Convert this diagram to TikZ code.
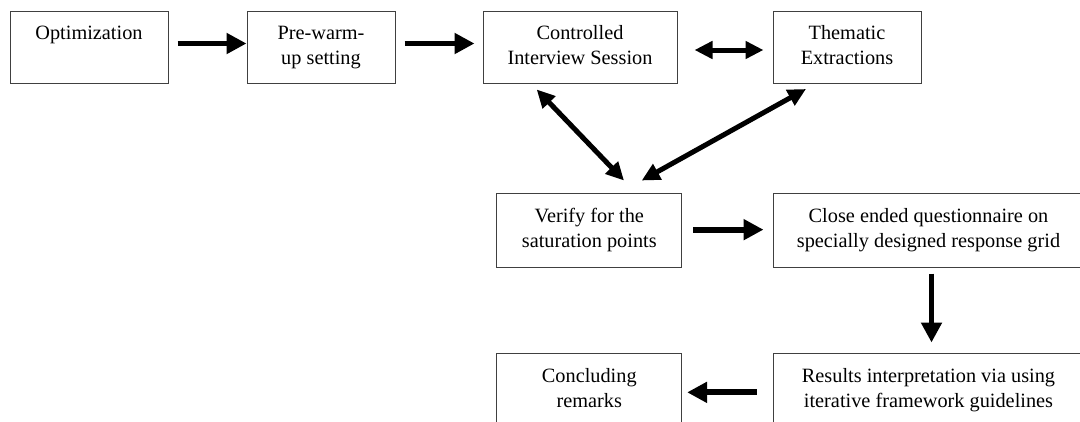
\documentclass[tikz,border=0pt]{standalone}
\usepackage{fontspec}
\setmainfont{Liberation Serif}
\usetikzlibrary{arrows.meta}
\begin{document}
\begin{tikzpicture}[x=1pt,y=-1pt,
  box/.style={draw=black!75, line width=1pt, rectangle, inner sep=0pt, align=center,
    font=\fontsize{20.3}{24.5}\selectfont, minimum height=73pt},
  arr/.style={line width=5.8pt, -{Triangle[length=20pt,width=20pt]}},
  darr/.style={line width=5pt, {Triangle[length=18pt,width=17pt]}-{Triangle[length=18pt,width=17pt]}}]
\useasboundingbox (0,0) rectangle (1080,421);
\clip (0,0) rectangle (1080,421);
% boxes
\node[box, minimum width=158pt, minimum height=72.5pt] (opt) at (89,47.25) {\strut Optimization\\\strut};
\node[box, minimum width=148pt, minimum height=72.5pt] (pre) at (321,47.25) {\strut Pre-warm-\\\strut up setting};
\node[box, minimum width=194pt, minimum height=72.5pt] (ctl) at (580,47.25) {\strut Controlled\\\strut Interview Session};
\node[box, minimum width=148pt, minimum height=72.5pt] (thm) at (847,47.25) {\strut Thematic\\\strut Extractions};
\node[box, minimum width=184.7pt, minimum height=73.7pt] (ver) at (589.3,230.15) {\strut Verify for the\\\strut saturation points};
\node[box, minimum width=311pt, minimum height=73.7pt] (cls) at (928.5,230.15) {\strut Close ended questionnaire on\\\strut specially designed response grid};
\node[box, minimum width=184.7pt, minimum height=73.7pt] (con) at (589.3,389.85) {\strut Concluding\\\strut remarks};
\node[box, minimum width=311pt, minimum height=73.7pt] (res) at (928.5,389.85) {\strut Results interpretation via using\\\strut iterative framework guidelines};
% connectors
\draw[arr] ([xshift=9pt,yshift=3.75pt]opt.east) -- ([yshift=3.75pt]pre.west);
\draw[arr] ([xshift=9pt,yshift=3.75pt]pre.east) -- ([xshift=-8pt,yshift=3.75pt]ctl.west);
\draw[darr] ([xshift=17pt,yshift=-2.75pt]ctl.east) -- ([xshift=-9pt,yshift=-2.75pt]thm.west);
\draw[darr] ([xshift=-43.3pt,yshift=-5.5pt]ctl.south) -- ([xshift=34.7pt,yshift=12.3pt]ver.north);
\draw[darr] ([xshift=-41pt,yshift=-5pt]thm.south) -- ([xshift=52.4pt,yshift=12.3pt]ver.north);
\draw[arr] ([xshift=11.3pt,yshift=0.5pt]ver.east) -- ([xshift=-9pt,yshift=0.5pt]cls.west);
\draw[arr] ([xshift=3pt,yshift=-6pt]cls.south) -- ([xshift=3pt,yshift=10pt]res.north);
\draw[arr] ([xshift=-16pt,yshift=-2.5pt]res.west) -- ([xshift=5pt,yshift=-2.5pt]con.east);
\end{tikzpicture}
\end{document}
